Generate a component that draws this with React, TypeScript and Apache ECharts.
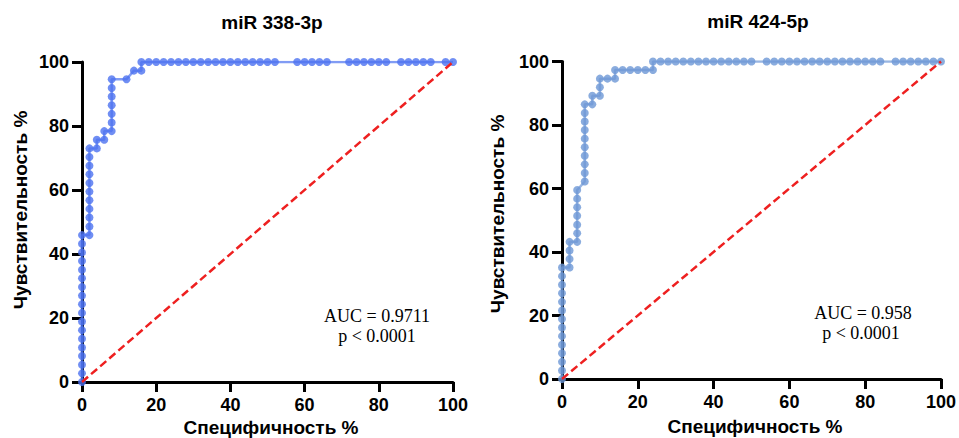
import React, { useEffect, useRef } from "react";
import * as echarts from "echarts";

// ---- data (percent) ----
const titles = ["miR 338-3p", "miR 424-5p"];
const aucLabels = ["AUC = 0.9711", "AUC = 0.958"];
const pLabel = "p < 0.0001";
const xName = "Специфичность %";
const yName = "Чувствительность %";
const ticks = [0, 20, 40, 60, 80, 100];

// miR 338-3p ROC points
const x338 = [
  0, 0, 0, 0, 0, 0, 0, 0, 0, 0, 0, 0, 0, 0, 0, 0, 0, 0,
  2, 2, 2, 2, 2, 2, 2, 2, 2, 2, 2,
  4, 4, 6, 6,
  8, 8, 8, 8, 8, 8, 8,
  12, 14, 16, 16,
  18, 20, 22, 24, 26, 28, 30, 32, 34, 36, 38, 40, 42, 44, 46, 48, 50, 52,
  58, 60, 62, 64, 66,
  72, 74, 76, 78, 80, 82,
  86, 88, 90, 92, 94,
  98, 100,
];
const y338 = [
  0, 2.7, 5.4, 8.1, 10.8, 13.5, 16.2, 18.9, 21.6, 24.3, 27.0, 29.7, 32.4, 35.1, 37.8, 40.5, 43.2, 45.9,
  45.9, 48.6, 51.4, 54.1, 56.8, 59.5, 62.2, 64.9, 67.6, 70.3, 73.0,
  73.0, 75.7, 75.7, 78.4,
  78.4, 81.1, 83.8, 86.5, 89.2, 91.9, 94.6,
  94.6, 97.3, 97.3, 100,
  100, 100, 100, 100, 100, 100, 100, 100, 100, 100, 100, 100, 100, 100, 100, 100, 100, 100,
  100, 100, 100, 100, 100,
  100, 100, 100, 100, 100, 100,
  100, 100, 100, 100, 100,
  100, 100,
];

// miR 424-5p ROC points
const x424 = [
  0, 0, 0, 0, 0, 0, 0, 0, 0, 0, 0, 0, 0, 0,
  2, 2, 2, 2,
  4, 4, 4, 4, 4, 4, 4,
  6, 6, 6, 6, 6, 6, 6, 6, 6, 6,
  8, 8,
  10, 10, 10,
  12, 14, 14,
  16, 18, 20, 22, 24, 24,
  26, 28, 30, 32, 34, 36, 38, 40, 42, 44, 46, 48, 50,
  54, 56, 58, 60, 62, 64, 66, 68, 70, 72, 74, 76, 78, 80, 82, 84,
  88, 90, 92, 94, 96, 98, 100,
];
const y424 = [
  0, 2.7, 5.4, 8.1, 10.8, 13.5, 16.2, 18.9, 21.6, 24.3, 27.0, 29.7, 32.4, 35.1,
  35.1, 37.8, 40.5, 43.2,
  43.2, 45.9, 48.6, 51.4, 54.1, 56.8, 59.5,
  62.2, 64.9, 67.6, 70.3, 73.0, 75.7, 78.4, 81.1, 83.8, 86.5,
  86.5, 89.2,
  89.2, 91.9, 94.6,
  94.6, 94.6, 97.3,
  97.3, 97.3, 97.3, 97.3, 97.3, 100,
  100, 100, 100, 100, 100, 100, 100, 100, 100, 100, 100, 100, 100,
  100, 100, 100, 100, 100, 100, 100, 100, 100, 100, 100, 100, 100, 100, 100, 100,
  100, 100, 100, 100, 100, 100, 100,
];
const diagonal = [0, 100];

const zip = (xs: number[], ys: number[]) => xs.map((x, i) => [x, ys[i]]);

const SANS = "'Liberation Sans', Arial, sans-serif";
const SERIF = "'Liberation Serif', 'Times New Roman', serif";

function makeAxis(gridIndex: number, isX: boolean) {
  return {
    type: "value",
    gridIndex,
    min: 0,
    max: 100,
    interval: 20,
    splitLine: { show: false },
    axisLine: { show: true, onZero: false, lineStyle: { color: "#000", width: 3 } },
    axisTick: { show: true, inside: false, length: 10, lineStyle: { color: "#000", width: 3 } },
    axisLabel: {
      show: true,
      margin: isX ? 14 : 13,
      color: "#000",
      fontWeight: "bold",
      fontSize: 18,
      fontFamily: SANS,
      formatter: (v: number) => (ticks.includes(v) ? String(v) : ""),
    },
  };
}

export default function App() {
  const ref = useRef<HTMLDivElement>(null);
  useEffect(() => {
    if (!ref.current) return;
    const chart = echarts.init(ref.current, null, { renderer: "svg" });
    const curve = (xi: number, data: number[][], color: string) => ({
      type: "line",
      xAxisIndex: xi,
      yAxisIndex: xi,
      data,
      symbol: "circle",
      symbolSize: 8,
      showSymbol: true,
      lineStyle: { color, width: 2.5, opacity: 0.7 },
      itemStyle: { color, opacity: 0.8 },
      z: 2,
    });
    const diag = (xi: number) => ({
      type: "line",
      xAxisIndex: xi,
      yAxisIndex: xi,
      data: zip(diagonal, diagonal),
      symbol: "none",
      lineStyle: { color: "#EE2020", width: 2.5, type: [8, 4] },
      z: 4,
    });
    const txt = (x: number, y: number, text: string, font: string, extra: any = {}) => ({
      type: "text",
      x,
      y,
      style: {
        text,
        font,
        fill: "#000",
        textAlign: "center",
        textVerticalAlign: "middle",
      },
      ...extra,
    });
    chart.setOption({
      animation: false,
      backgroundColor: "#fff",
      grid: [
        { left: 82, top: 62, width: 371, height: 320 },
        { left: 562, top: 61.5, width: 380, height: 317.5 },
      ],
      xAxis: [makeAxis(0, true), makeAxis(1, true)],
      yAxis: [makeAxis(0, false), makeAxis(1, false)],
      series: [
        curve(0, zip(x338, y338), "#4C72F0"),
        diag(0),
        curve(1, zip(x424, y424), "#6D97D6"),
        diag(1),
      ],
      graphic: [
        txt(272, 22, titles[0], `bold 19px ${SANS}`),
        txt(758, 21, titles[1], `bold 19px ${SANS}`),
        txt(271, 427, xName, `bold 19px ${SANS}`),
        txt(755, 426, xName, `bold 19px ${SANS}`),
        txt(20, 210, yName, `bold 19px ${SANS}`, { rotation: Math.PI / 2 }),
        txt(497, 214, yName, `bold 19px ${SANS}`, { rotation: Math.PI / 2 }),
        txt(377, 316, aucLabels[0], `18px ${SERIF}`),
        txt(377, 336, pLabel, `18px ${SERIF}`),
        txt(863, 313, aucLabels[1], `18px ${SERIF}`),
        txt(861, 333, pLabel, `18px ${SERIF}`),
      ],
    });
    return () => chart.dispose();
  }, []);
  return (
    <div
      ref={ref}
      style={{ position: "fixed", left: 0, top: 0, width: 959, height: 438, background: "#fff" }}
    />
  );
}
